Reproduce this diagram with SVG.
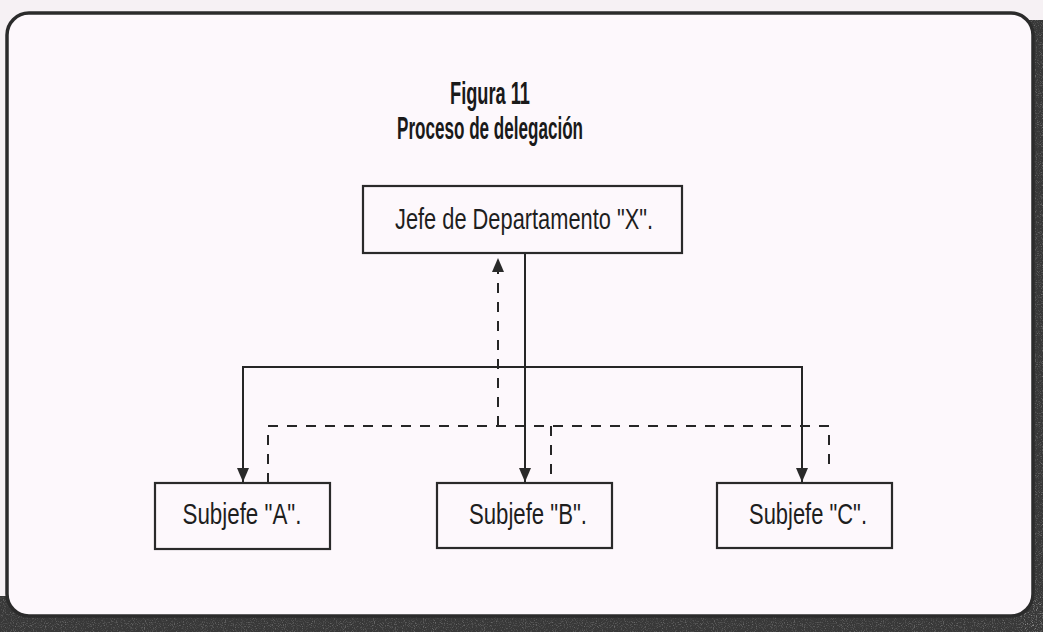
<svg xmlns="http://www.w3.org/2000/svg" width="1043" height="632" viewBox="0 0 1043 632">
  <defs>
    <style>
      .box { fill: #fdf8fc; stroke: #2a2a2a; stroke-width: 2.2; }
      .label { font-family: "Liberation Sans Narrow", "Liberation Sans", Arial, sans-serif; font-size: 29px; fill: #1e1e1e; text-anchor: middle; }
      .title { font-family: "Liberation Sans Narrow", "Liberation Sans", Arial, sans-serif; font-size: 31px; font-weight: bold; fill: #1a1a1a; text-anchor: middle; }
      .solid { fill: none; stroke: #262626; stroke-width: 2; }
      .dash { fill: none; stroke: #262626; stroke-width: 2; stroke-dasharray: 10 9; }
      .grain { opacity: 0.3; }
    </style>
    <marker id="head" viewBox="0 0 14 12" refX="14" refY="6" markerWidth="14" markerHeight="12" markerUnits="userSpaceOnUse" orient="auto-start-reverse">
      <path d="M0,0 L14,6 L0,12 Z" fill="#2a2a2a"/>
    </marker>
    <!-- light specks scattered over the dark worn border -->
    <filter id="specks" x="0" y="0" width="100%" height="100%" color-interpolation-filters="sRGB">
      <feTurbulence type="fractalNoise" baseFrequency="0.9" numOctaves="2" seed="7"/>
      <feColorMatrix type="matrix" values="0 0 0 0 0.85  0 0 0 0 0.85  0 0 0 0 0.85  0 0 0 3.2 -1.65"/>
    </filter>
  </defs>

  <!-- paper and worn edges -->
  <rect x="0" y="0" width="1043" height="632" fill="#f6f1f4"/>
  <g id="worn-edge">
    <rect x="0" y="596" width="1043" height="36" fill="#383838"/>
    <rect x="1018" y="20" width="25" height="612" fill="#383838"/>
    <rect class="grain" x="0" y="596" width="1043" height="36" filter="url(#specks)"/>
    <rect class="grain" x="1018" y="20" width="25" height="612" filter="url(#specks)"/>
  </g>

  <!-- frame -->
  <rect x="7" y="13" width="1026" height="603" rx="22" ry="22" fill="#fdf8fc" stroke="#2b2b2b" stroke-width="3.5"/>

  <!-- title -->
  <text class="title" x="490" y="104" textLength="80" lengthAdjust="spacingAndGlyphs">Figura 11</text>
  <text class="title" x="490" y="139" textLength="186" lengthAdjust="spacingAndGlyphs">Proceso de delegación</text>

  <!-- connectors -->
  <g id="connectors">
    <!-- authority delegated downward -->
    <path class="solid" d="M525,253 V482" marker-end="url(#head)"/>
    <path class="solid" d="M243,482 V367 H802 V482" marker-start="url(#head)" marker-end="url(#head)"/>
    <!-- accountability returned upward -->
    <path class="dash" d="M268,483 V426 H829 V470"/>
    <path class="dash" d="M551,426 V483"/>
    <path class="dash" d="M498,426 V258" marker-end="url(#head)"/>
  </g>

  <!-- nodes -->
  <g id="jefe">
    <rect class="box" x="363" y="186" width="319" height="67"/>
    <text class="label" x="524" y="229" textLength="258" lengthAdjust="spacingAndGlyphs">Jefe de Departamento "X".</text>
  </g>
  <g id="subjefe-a">
    <rect class="box" x="155" y="483" width="175" height="66"/>
    <text class="label" x="242" y="524" textLength="119" lengthAdjust="spacingAndGlyphs">Subjefe "A".</text>
  </g>
  <g id="subjefe-b">
    <rect class="box" x="437" y="483" width="175" height="65"/>
    <text class="label" x="528" y="524" textLength="118" lengthAdjust="spacingAndGlyphs">Subjefe "B".</text>
  </g>
  <g id="subjefe-c">
    <rect class="box" x="717" y="483" width="175" height="65"/>
    <text class="label" x="808" y="524" textLength="118" lengthAdjust="spacingAndGlyphs">Subjefe "C".</text>
  </g>
</svg>
